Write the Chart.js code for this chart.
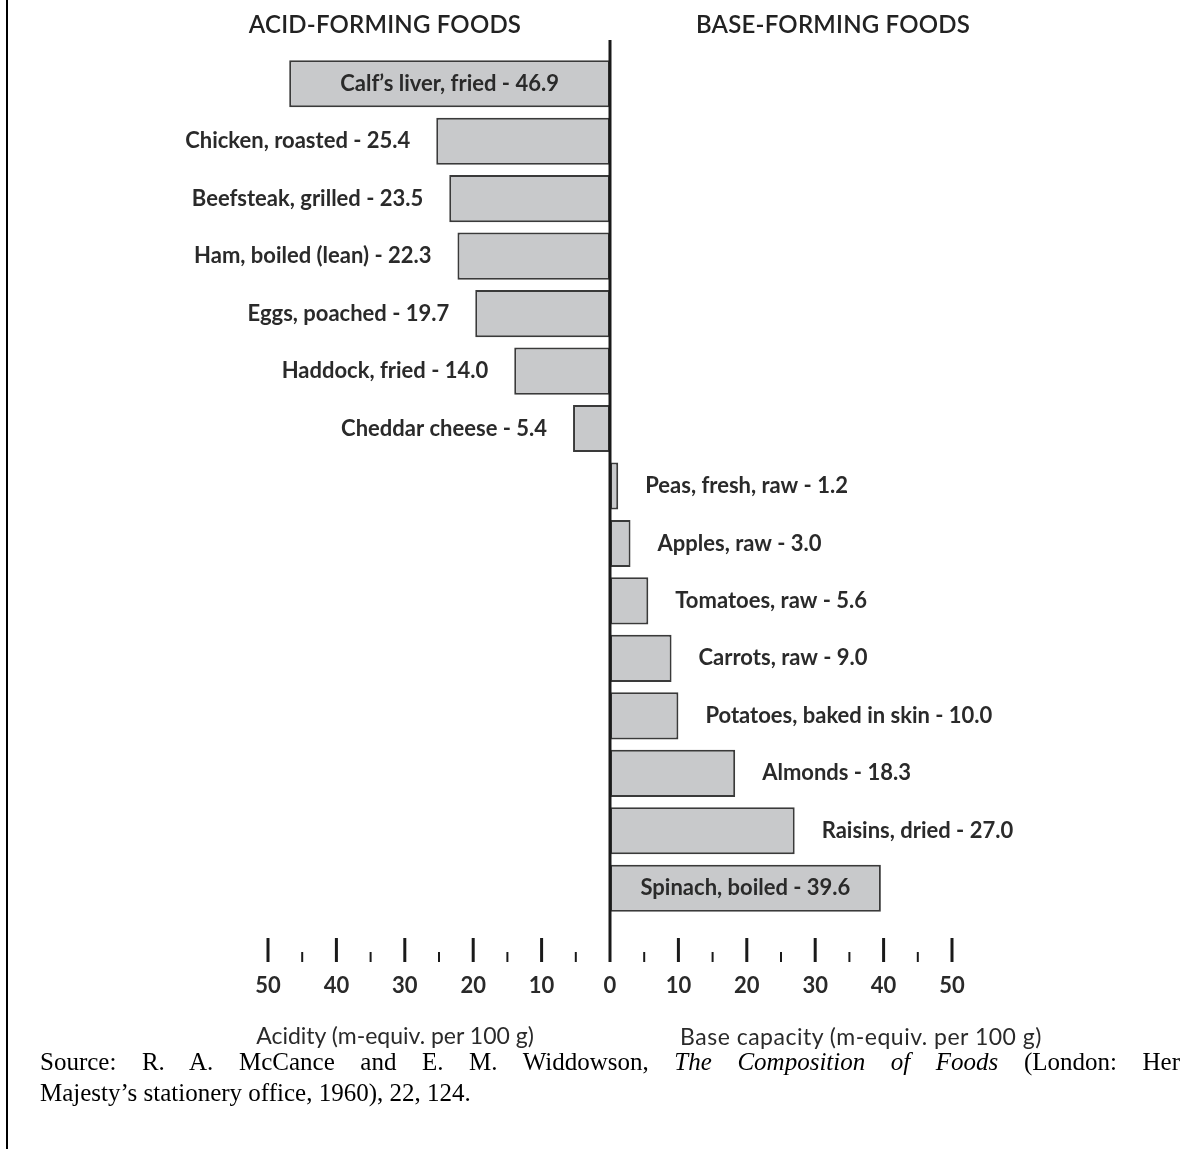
<!DOCTYPE html>
<html>
<head>
<meta charset="utf-8">
<script src="https://cdn.jsdelivr.net/npm/chart.js@4.4.0/dist/chart.umd.min.js"></script>
<style>
  html, body { margin: 0; padding: 0; background: #fff; }
  #wrap { position: relative; width: 1198px; height: 1149px; overflow: hidden; }
  #chart { position: absolute; left: 0; top: 0; }
  .lbl { position: absolute; font-family: Lato, "Open Sans", sans-serif; color: #2a2a2a; white-space: nowrap; transform: translate(-50%, -50%); }
  .head { font-size: 24px; font-weight: 600; color: #222; letter-spacing: 0.2px; }
  .title { font-size: 23px; }
  #rule { position: absolute; left: 6px; top: 0; width: 2px; height: 1149px; background: #000; }
  .src { position: absolute; left: 40px; width: 1140px; font-family: "Liberation Serif", "Times New Roman", serif; font-size: 25px; color: #000; white-space: nowrap; }
  .just { text-align: justify; text-align-last: justify; white-space: normal; }
</style>
</head>
<body>
<div id="wrap">
  <canvas id="chart" width="1198" height="1149"></canvas>
  <div id="rule"></div>
  <div class="lbl head" style="left:385px; top:23px;">ACID-FORMING FOODS</div>
  <div class="lbl head" style="left:833px; top:23px;">BASE-FORMING FOODS</div>
  <div class="lbl title" style="left:395px; top:1035px;">Acidity (m-equiv. per 100 g)</div>
  <div class="lbl title" style="left:861px; top:1036px; letter-spacing: 0.5px;">Base capacity (m-equiv. per 100 g)</div>
  <div class="src just" style="top:1048px;">Source: R. A. McCance and E. M. Widdowson, <i>The Composition of Foods</i> (London: Her</div>
  <div class="src" style="top:1079px;">Majesty’s stationery office, 1960), 22, 124.</div>
</div>
<script>
// Foods, top to bottom
const foods = [
    'Calf’s liver, fried', 'Chicken, roasted', 'Beefsteak, grilled', 'Ham, boiled (lean)',
    'Eggs, poached', 'Haddock, fried', 'Cheddar cheese',
    'Peas, fresh, raw', 'Apples, raw', 'Tomatoes, raw', 'Carrots, raw',
    'Potatoes, baked in skin', 'Almonds', 'Raisins, dried', 'Spinach, boiled'
];
// acid-forming as negative, base-forming as positive
const values = [-46.9, -25.4, -23.5, -22.3, -19.7, -14.0, -5.4,
    1.2, 3.0, 5.6, 9.0, 10.0, 18.3, 27.0, 39.6];
const majorTicks = [-50, -40, -30, -20, -10, 0, 10, 20, 30, 40, 50];
const minorTicks = [-45, -35, -25, -15, -5, 5, 15, 25, 35, 45];

const ink = '#2a2a2a';

const overlay = {
    id: 'overlay',
    afterDatasetsDraw(chart) {
        const ctx = chart.ctx;
        const x = chart.scales.x;
        const meta = chart.getDatasetMeta(0);
        const x0 = x.getPixelForValue(0);

        ctx.save();
        // bar labels
        ctx.font = 'bold 22px Lato, "Open Sans", sans-serif';
        ctx.fillStyle = ink;
        ctx.textBaseline = 'middle';
        meta.data.forEach((bar, i) => {
            const v = values[i];
            const text = foods[i] + ' - ' + Math.abs(v).toFixed(1);
            if (Math.abs(v) > 35) {
                ctx.textAlign = 'center';
                ctx.fillText(text, (bar.x + bar.base) / 2, bar.y);
            } else if (v < 0) {
                ctx.textAlign = 'right';
                ctx.fillText(text, bar.x - 26, bar.y);
            } else {
                ctx.textAlign = 'left';
                ctx.fillText(text, bar.x + 27, bar.y);
            }
        });

        // zero line
        ctx.strokeStyle = '#1a1a1a';
        ctx.lineWidth = 3;
        ctx.beginPath();
        ctx.moveTo(x0, 40);
        ctx.lineTo(x0, 962);
        ctx.stroke();

        // tick marks
        ctx.lineWidth = 3;
        majorTicks.forEach(t => {
            if (t === 0) return;
            const px = x.getPixelForValue(t);
            ctx.beginPath();
            ctx.moveTo(px, 938);
            ctx.lineTo(px, 962);
            ctx.stroke();
        });
        ctx.lineWidth = 2;
        minorTicks.forEach(t => {
            const px = x.getPixelForValue(t);
            ctx.beginPath();
            ctx.moveTo(px, 952);
            ctx.lineTo(px, 962);
            ctx.stroke();
        });

        // tick labels
        ctx.font = 'bold 22px Lato, "Open Sans", sans-serif';
        ctx.textAlign = 'center';
        majorTicks.forEach(t => {
            ctx.fillText(String(Math.abs(t)), x.getPixelForValue(t), 986);
        });
        ctx.restore();
    }
};

new Chart(document.getElementById('chart'), {
    type: 'bar',
    data: {
        labels: foods,
        datasets: [{
            data: values,
            backgroundColor: '#c8c9cb',
            borderColor: '#3a3a3a',
            borderWidth: 2,
            borderSkipped: false,
            barPercentage: 0.82,
            categoryPercentage: 1
        }]
    },
    options: {
        indexAxis: 'y',
        responsive: false,
        animation: false,
        layout: { padding: { left: 268, right: 246, top: 55, bottom: 232 } },
        plugins: { legend: { display: false }, tooltip: { enabled: false } },
        scales: {
            x: { display: false, min: -50, max: 50 },
            y: { display: false }
        }
    },
    plugins: [overlay]
});
</script>
</body>
</html>
